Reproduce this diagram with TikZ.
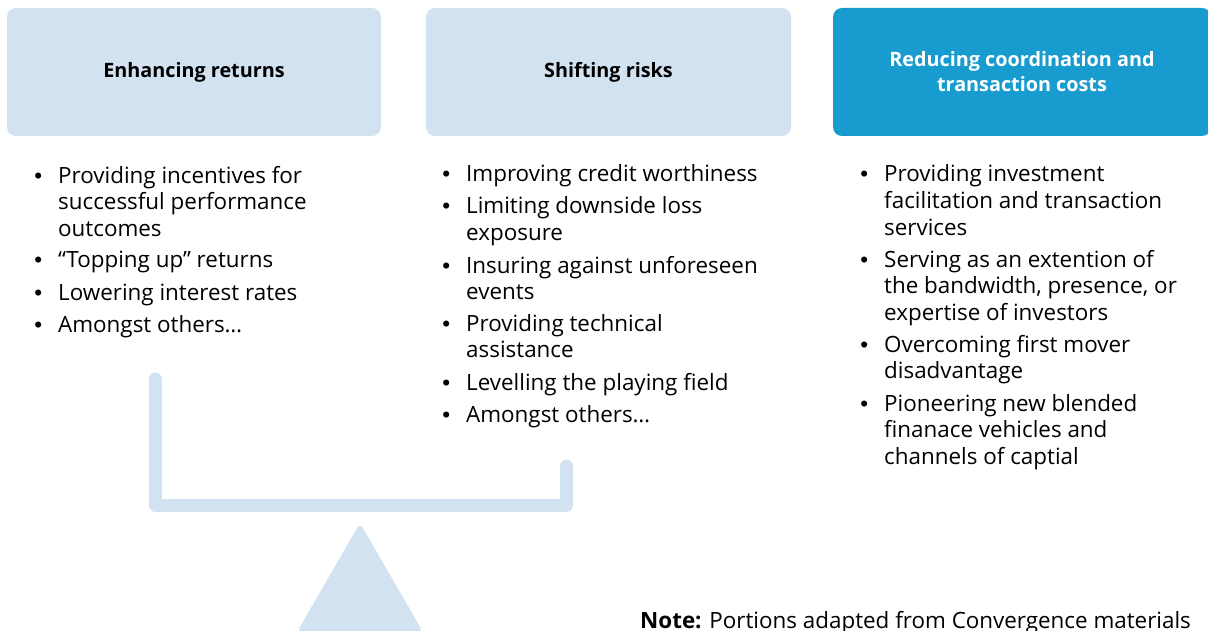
\documentclass[tikz,border=0pt]{standalone}
\usepackage{fontspec}
\setmainfont{Open Sans}
\newfontfamily\dotfont{Liberation Sans}
\definecolor{paleblue}{HTML}{D3E2F1}
\definecolor{deepblue}{HTML}{189BCF}
\tikzset{
  headbox/.style={rectangle, rounded corners=9pt, fill=paleblue, minimum height=128pt, inner sep=0pt, align=center, font=\fontsize{19.8}{25}\selectfont\bfseries},
  entry/.style={anchor=base west, inner sep=0pt, align=left, font=\fontsize{22.4}{26.6}\selectfont},
}
\newcommand{\dotmark}{\llap{{\dotfont\textbullet}\hspace{16pt}}}

\begin{document}
\begin{tikzpicture}[x=1pt,y=-1pt]
\def\pagew{1208}
\def\pageh{631}
\useasboundingbox (0,0) rectangle (\pagew,\pageh);

% three headings
\node[headbox, minimum width=374pt] (returns) at (194,72) {Enhancing returns};
\node[headbox, minimum width=365pt] (risks) at (608.5,72) {Shifting risks};
\node[headbox, minimum width=378pt, fill=deepblue, text=white] (costs) at (1022,72) {Reducing coordination and\\transaction costs};

% first column (base = last line)
\node[entry] (r1) at (58,236.2) {\dotmark Providing incentives for\\successful performance\\outcomes};
\node[entry] (r2) at (58,268) {\dotmark “Topping up” returns};
\node[entry] (r3) at (58,300) {\dotmark Lowering interest rates};
\node[entry] (r4) at (58,332) {\dotmark Amongst others…};

% second column
\node[entry] (s1) at (466,182) {\dotmark Improving credit worthiness};
\node[entry] (s2) at (466,240.6) {\dotmark Limiting downside loss\\exposure};
\node[entry] (s3) at (466,299.6) {\dotmark Insuring against unforeseen\\events};
\node[entry] (s4) at (466,357.6) {\dotmark Providing technical\\assistance};
\node[entry] (s5) at (466,390) {\dotmark Levelling the playing field};
\node[entry] (s6) at (466,422) {\dotmark Amongst others…};

% third column
\node[entry] (c1) at (884,235.2) {\dotmark Providing investment\\facilitation and transaction\\services};
\node[entry] (c2) at (884,320.2) {\dotmark Serving as an extention of\\the bandwidth, presence, or\\expertise of investors};
\node[entry] (c3) at (884,378.6) {\dotmark Overcoming first mover\\disadvantage};
\node[entry] (c4) at (884,464.2) {\dotmark Pioneering new blended\\finanace vehicles and\\channels of captial};

% the scale
\draw[paleblue, line width=13pt, line cap=round, line join=round] (155,379) -- (155,505) -- (566.5,505) -- (566.5,466);
\fill[paleblue, rounded corners=5pt] (360,523) -- (423,632) -- (297,632) -- cycle;

\node[entry] (note) at (640,628) {\textbf{Note:} Portions adapted from Convergence materials};
\end{tikzpicture}
\end{document}
